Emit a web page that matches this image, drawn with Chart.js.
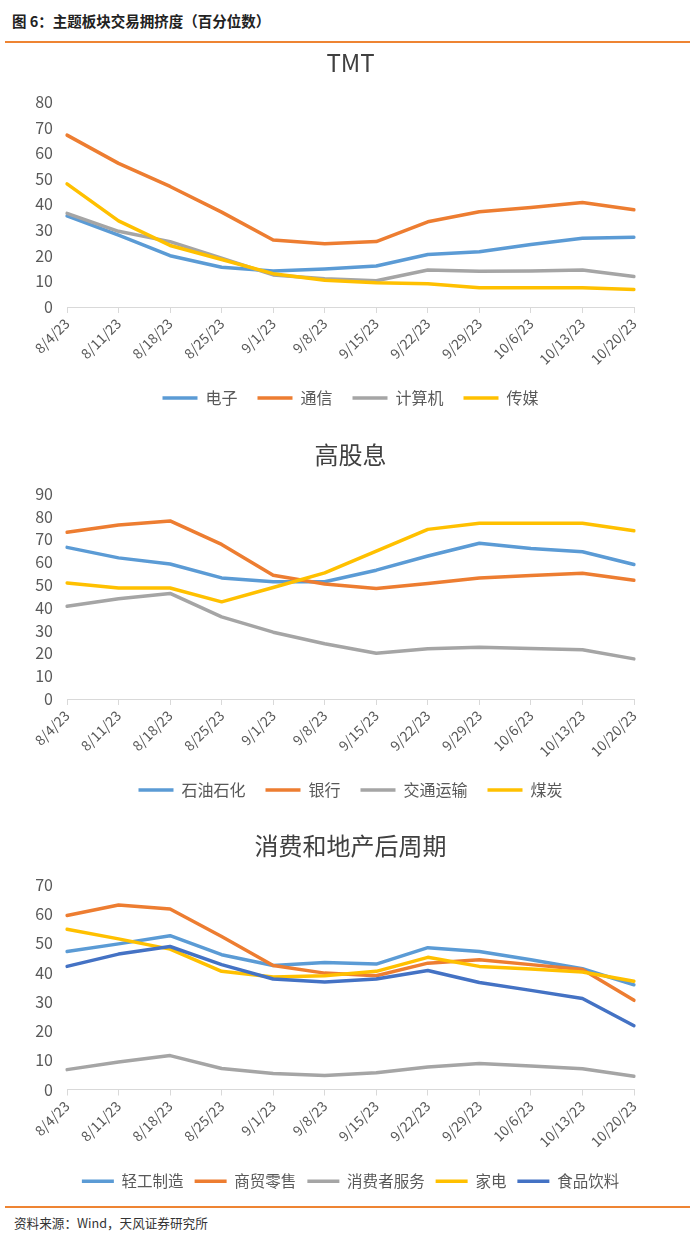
<!DOCTYPE html>
<html>
<head>
<meta charset="utf-8">
<script src="https://cdn.jsdelivr.net/npm/chart.js@4"></script>
<style>
  body { margin: 0; background: #fff; font-family: "Noto Sans CJK SC", sans-serif; }
  #page { position: relative; width: 700px; height: 1239px; }
  .head { position: absolute; left: 12px; top: 10px; font-size: 14.5px; font-weight: bold; color: #222; }
  .rule { position: absolute; left: 5px; width: 685px; height: 2px; background: #EE8432; }
  .src { position: absolute; left: 14px; top: 1213px; font-size: 12.6px; color: #333; }
  .box { position: absolute; left: 0; width: 686px; height: 374px; }
</style>
</head>
<body>
<div id="page">
  <div class="head">图 6：主题板块交易拥挤度（百分位数）</div>
  <div class="rule" style="top:41px"></div>
  <div class="box" style="top:42px"><canvas id="tmtChart"></canvas></div>
  <div class="box" style="top:434px"><canvas id="dividendChart"></canvas></div>
  <div class="box" style="top:825px"><canvas id="consumeChart"></canvas></div>
  <div class="rule" style="top:1206px"></div>
  <div class="src">资料来源：Wind，天风证券研究所</div>
</div>
<script>
// 日期
const dates = ['8/4/23', '8/11/23', '8/18/23', '8/25/23', '9/1/23', '9/8/23', '9/15/23',
               '9/22/23', '9/29/23', '10/6/23', '10/13/23', '10/20/23'];

// TMT
const dianzi   = [35.5, 28, 20, 15.5, 14, 14.8, 16, 20.5, 21.5, 24.4, 26.8, 27.2];
const tongxin  = [67, 56, 47, 37, 26.1, 24.7, 25.5, 33.2, 37.1, 38.8, 40.7, 37.9];
const jisuanji = [36.5, 29.5, 25.5, 19, 12.5, 11, 10.2, 14.4, 13.9, 14, 14.4, 11.9];
const chuanmei = [48, 33.6, 24, 18.5, 13, 10.4, 9.5, 9.1, 7.5, 7.5, 7.5, 6.8];

// 高股息
const shiyou   = [66.5, 61.9, 59.2, 53.1, 51.4, 51.4, 56.5, 62.7, 68.3, 66, 64.6, 59];
const yinhang  = [73.1, 76.3, 78.1, 67.8, 54.3, 50.4, 48.5, 50.7, 53.1, 54.2, 55.2, 52.1];
const jiaotong = [40.7, 44, 46.3, 36, 29.3, 24.2, 20.1, 22, 22.7, 22.2, 21.6, 17.6];
const meitan   = [50.9, 48.7, 48.7, 42.6, 48.9, 55.3, 64.9, 74.4, 77.1, 77.1, 77.1, 73.8];

// 消费和地产后周期
const qinggong = [47.2, 49.8, 52.6, 46.1, 42.4, 43.4, 42.9, 48.5, 47.2, 44.4, 41.3, 35.8];
const shangmao = [59.5, 63.1, 61.7, 52.3, 42.4, 39.8, 38.9, 43.2, 44.4, 42.7, 41, 30.5];
const xiaofei  = [6.8, 9.4, 11.6, 7.2, 5.5, 4.8, 5.7, 7.7, 8.9, 8, 7.1, 4.5];
const jiadian  = [54.8, 51.5, 48, 40.4, 38.5, 38.9, 40.4, 45.2, 42.1, 41.2, 40.2, 37];
const shipin   = [42.1, 46.3, 48.9, 42.7, 37.8, 36.8, 37.8, 40.7, 36.6, 33.9, 31.1, 21.8];

const BLUE = '#5B9BD5', ORANGE = '#ED7D31', GRAY = '#A5A5A5', YELLOW = '#FFC000', DARK = '#4472C4';
const FONT = '"Noto Sans CJK SC", sans-serif';

function makeSeries(label, data, color, idx) {
    return {
        label: label,
        data: data,
        borderColor: color,
        backgroundColor: color,
        borderWidth: 3.5,
        borderCapStyle: 'round',
        borderJoinStyle: 'round',
        pointRadius: 0,
        tension: 0,
        order: -idx   // 后面的系列画在上面
    };
}

// lg: 图例参数 { w: 线长, pad: 间距, size: 字号, bottom: 底部留白, xh: x轴高度 }
function makeChart(id, title, yMax, series, lg) {
    const ctx = document.getElementById(id).getContext('2d');
    return new Chart(ctx, {
        type: 'line',
        data: {
            labels: dates,
            datasets: series.map((s, i) => makeSeries(s[0], s[1], s[2], i))
        },
        options: {
            responsive: true,
            maintainAspectRatio: false,
            animation: false,
            layout: { padding: { left: 0, right: 52, top: 0, bottom: lg.bottom } },
            plugins: {
                title: {
                    display: true,
                    fullSize: false,
                    text: title,
                    color: '#404040',
                    font: { family: FONT, size: 24, weight: 'normal' },
                    padding: { top: 6, bottom: 25 }
                },
                legend: {
                    position: 'bottom',
                    fullSize: false,
                    labels: {
                        usePointStyle: true,
                        pointStyle: 'line',
                        pointStyleWidth: lg.w,
                        padding: lg.pad,
                        color: '#595959',
                        font: { family: FONT, size: lg.size },
                        sort: (a, b) => a.datasetIndex - b.datasetIndex
                    }
                },
                tooltip: { enabled: false }
            },
            scales: {
                x: {
                    offset: false,
                    grid: { display: true, drawOnChartArea: false, drawTicks: true, tickLength: 6, color: '#D9D9D9' },
                    border: { color: '#D9D9D9' },
                    ticks: {
                        autoSkip: false, minRotation: 45, maxRotation: 45,
                        color: '#595959', font: { family: FONT, size: 14 }, padding: 2
                    },
                    afterFit: scale => { scale.height = lg.xh; }
                },
                y: {
                    min: 0,
                    max: yMax,
                    grid: { display: false },
                    border: { display: false },
                    ticks: { stepSize: 10, color: '#595959', font: { family: FONT, size: 16 }, padding: 6 },
                    afterFit: scale => { scale.width = 67; }
                }
            }
        }
    });
}

makeChart('tmtChart', 'TMT', 80, [
    ['电子', dianzi, BLUE],
    ['通信', tongxin, ORANGE],
    ['计算机', jisuanji, GRAY],
    ['传媒', chuanmei, YELLOW]
], { w: 35, pad: 20, size: 16, bottom: 0, xh: 63 });

makeChart('dividendChart', '高股息', 90, [
    ['石油石化', shiyou, BLUE],
    ['银行', yinhang, ORANGE],
    ['交通运输', jiaotong, GRAY],
    ['煤炭', meitan, YELLOW]
], { w: 35, pad: 20, size: 16, bottom: 0, xh: 63 });

makeChart('consumeChart', '消费和地产后周期', 70, [
    ['轻工制造', qinggong, BLUE],
    ['商贸零售', shangmao, ORANGE],
    ['消费者服务', xiaofei, GRAY],
    ['家电', jiadian, YELLOW],
    ['食品饮料', shipin, DARK]
], { w: 32, pad: 11, size: 15.5, bottom: 0, xh: 73 });
</script>
</body>
</html>
